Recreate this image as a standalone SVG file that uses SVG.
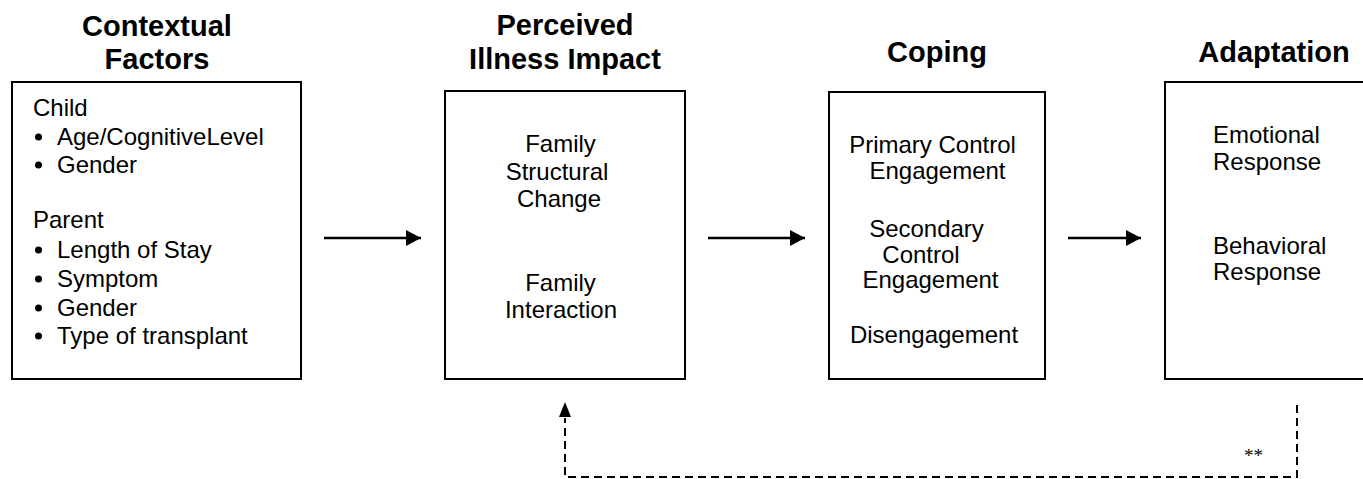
<svg xmlns="http://www.w3.org/2000/svg" width="1363" height="479" viewBox="0 0 1363 479">
<style>
.box{fill:#fff;stroke:#000;stroke-width:2}
.h{font-family:"Liberation Sans",Arial,sans-serif;font-weight:bold;font-size:29px;fill:#000;text-anchor:middle}
.t{font-family:"Liberation Sans",Arial,sans-serif;font-size:24px;fill:#000}
.c{text-anchor:middle}
.line{stroke:#000;stroke-width:2.5;fill:none}
.dash{stroke:#000;stroke-width:2;fill:none;stroke-dasharray:8,5}
</style>
<defs>
<marker id="arr" markerUnits="userSpaceOnUse" markerWidth="16" markerHeight="16" refX="15" refY="8" orient="auto">
<path d="M0,0 L15,8 L0,16 Z" fill="#000"/>
</marker>
</defs>
<rect width="1363" height="479" fill="#fff"/>
<g id="contextual">
<text class="h" x="157" y="36">Contextual</text>
<text class="h" x="157" y="69">Factors</text>
<rect class="box" x="12" y="82" width="289" height="297"/>
<text class="t" x="33" y="116">Child</text>
<circle cx="38.5" cy="137" r="3.5"/><text class="t" x="57" y="145">Age/CognitiveLevel</text>
<circle cx="38.5" cy="165" r="3.5"/><text class="t" x="57" y="173">Gender</text>
<text class="t" x="33" y="228">Parent</text>
<circle cx="38.5" cy="250" r="3.5"/><text class="t" x="57" y="258">Length of Stay</text>
<circle cx="38.5" cy="279" r="3.5"/><text class="t" x="57" y="287">Symptom</text>
<circle cx="38.5" cy="308" r="3.5"/><text class="t" x="57" y="316">Gender</text>
<circle cx="38.5" cy="336" r="3.5"/><text class="t" x="57" y="344">Type of transplant</text>
</g>
<g id="impact">
<text class="h" x="565" y="35">Perceived</text>
<text class="h" x="565" y="69">Illness Impact</text>
<rect class="box" x="445" y="91" width="240" height="288"/>
<text class="t c" x="560.5" y="152">Family</text>
<text class="t c" x="557" y="180">Structural</text>
<text class="t c" x="559" y="207">Change</text>
<text class="t c" x="560.5" y="291">Family</text>
<text class="t c" x="561" y="318">Interaction</text>
</g>
<g id="coping">
<text class="h" x="937" y="62">Coping</text>
<rect class="box" x="829" y="92" width="216" height="287"/>
<text class="t c" x="932.5" y="153">Primary Control</text>
<text class="t c" x="937.5" y="179">Engagement</text>
<text class="t c" x="926.5" y="237">Secondary</text>
<text class="t c" x="921" y="263">Control</text>
<text class="t c" x="930.5" y="288">Engagement</text>
<text class="t c" x="934" y="343">Disengagement</text>
</g>
<g id="adaptation">
<text class="h" x="1274" y="62">Adaptation</text>
<rect class="box" x="1165" y="82" width="220" height="297"/>
<text class="t" x="1213" y="143">Emotional</text>
<text class="t" x="1213" y="170">Response</text>
<text class="t" x="1213" y="254">Behavioral</text>
<text class="t" x="1213" y="280">Response</text>
</g>
<g id="connectors">
<line class="line" x1="324" y1="238" x2="421" y2="238" marker-end="url(#arr)"/>
<line class="line" x1="708" y1="238" x2="805" y2="238" marker-end="url(#arr)"/>
<line class="line" x1="1068" y1="238" x2="1141" y2="238" marker-end="url(#arr)"/>
<path class="dash" d="M1297,405 L1297,477 L565,477 L565,418"/>
<path d="M565,402 L559,417 L571,417 Z" fill="#000"/>
<text x="1244" y="462" font-family="Liberation Serif,serif" font-size="19" fill="#000">**</text>
</g>
</svg>
